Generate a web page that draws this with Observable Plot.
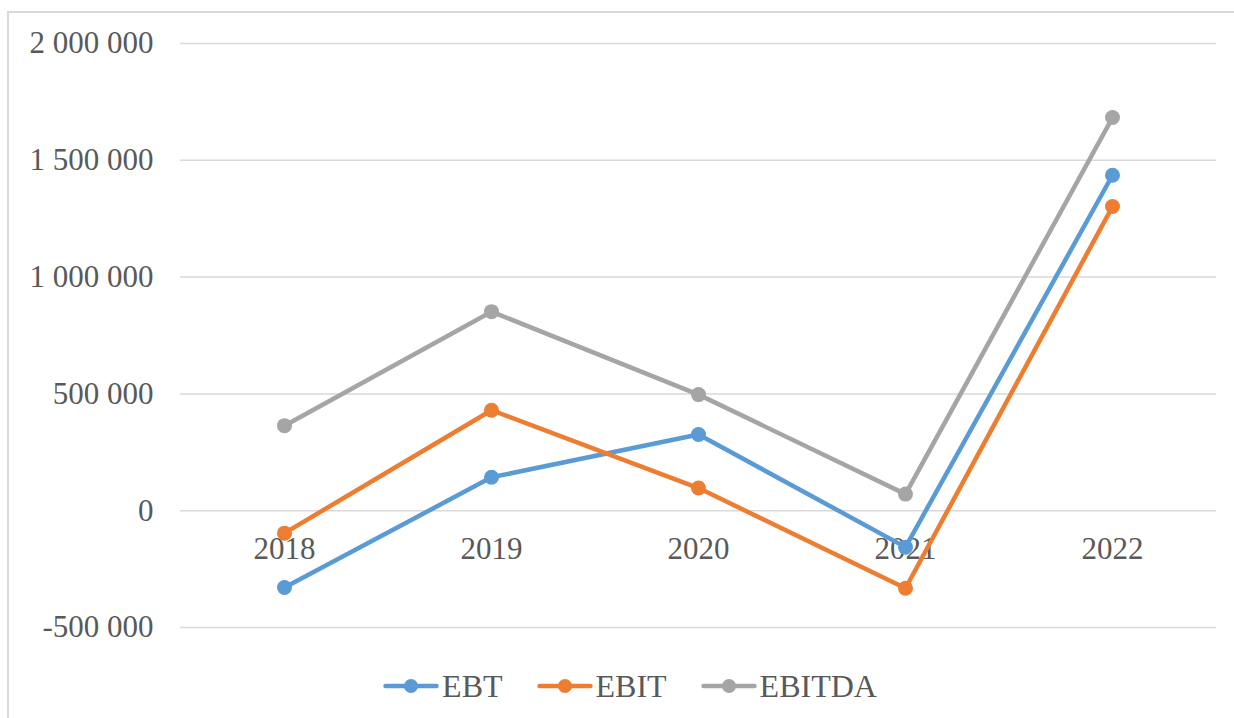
<!DOCTYPE html>
<html>
<head>
<meta charset="utf-8">
<script src="https://cdn.jsdelivr.net/npm/d3@7"></script>
<script src="https://cdn.jsdelivr.net/npm/@observablehq/plot@0.6"></script>
<style>
  html, body { margin: 0; padding: 0; background: #fff; }
  body { width: 1234px; height: 718px; position: relative; overflow: hidden; font-family: "Liberation Serif", "Times New Roman", serif; }
  #frame { position: absolute; left: 7px; top: 11px; width: 1240px; height: 720px; border-left: 2px solid #d9d9d9; border-top: 2px solid #d9d9d9; box-sizing: border-box; }
  #chart { position: absolute; left: 0; top: 0; }
  #legend { position: absolute; left: 13px; top: 664px; width: 1234px; height: 44px; display: flex; justify-content: center; align-items: center; color: #595959; font-size: 32px; }
  .item { display: flex; align-items: center; margin: 0 17px; }
  .item svg { margin-right: 3px; display: block; }
</style>
</head>
<body>
<div id="frame"></div>
<div id="chart"></div>
<div id="legend"></div>
<script>
const years = ["2018", "2019", "2020", "2021", "2022"];
const seriesNames = ["EBT", "EBIT", "EBITDA"];
const ebt = [-329000, 143000, 326000, -156000, 1436000];
const ebit = [-96000, 430000, 97000, -332000, 1302000];
const ebitda = [364000, 852000, 497000, 71000, 1683000];
const colors = ["#5b9bd5", "#ed7d31", "#a5a5a5"];
const yTicks = [-500000, 0, 500000, 1000000, 1500000, 2000000];

const valuesBySeries = [ebt, ebit, ebitda];
const data = seriesNames.flatMap((s, i) =>
  years.map((y, j) => ({series: s, year: y, value: valuesBySeries[i][j]}))
);

const fmt = v => d3.format(",")(v).replace(/,/g, " ").replace("−", "-");

const chart = Plot.plot({
  width: 1234,
  height: 660,
  marginLeft: 180,
  marginRight: 18,
  marginTop: 43,
  marginBottom: 33,
  style: {fontFamily: "'Liberation Serif', 'Times New Roman', serif", fontSize: "31px", color: "#595959", background: "transparent"},
  x: {type: "point", domain: years, padding: 0.5, axis: null},
  y: {domain: [-500000, 2000000], label: null},
  color: {domain: seriesNames, range: colors},
  marks: [
    Plot.ruleY(yTicks, {stroke: "#d9d9d9", strokeWidth: 1.5}),
    Plot.axisY({ticks: yTicks, tickFormat: fmt, tickSize: 0, tickPadding: 27, fontSize: 31, fill: "#595959", label: null}),
    Plot.text(years, {x: d => d, y: () => 0, dy: 38, fill: "#595959", fontSize: 31, text: d => d}),
    Plot.line(data, {x: "year", y: "value", z: "series", stroke: "series", strokeWidth: 4.5, strokeLinejoin: "round", strokeLinecap: "round"}),
    Plot.dot(data, {x: "year", y: "value", fill: "series", r: 7.5})
  ]
});
document.getElementById("chart").appendChild(chart);

const legend = document.getElementById("legend");
seriesNames.forEach((s, i) => {
  const item = document.createElement("div");
  item.className = "item";
  item.innerHTML = `<svg width="56" height="20"><line x1="2.5" y1="10" x2="53.5" y2="10" stroke="${colors[i]}" stroke-width="4.5" stroke-linecap="round"/><circle cx="28" cy="10" r="7" fill="${colors[i]}"/></svg><span>${s}</span>`;
  legend.appendChild(item);
});
</script>
</body>
</html>
